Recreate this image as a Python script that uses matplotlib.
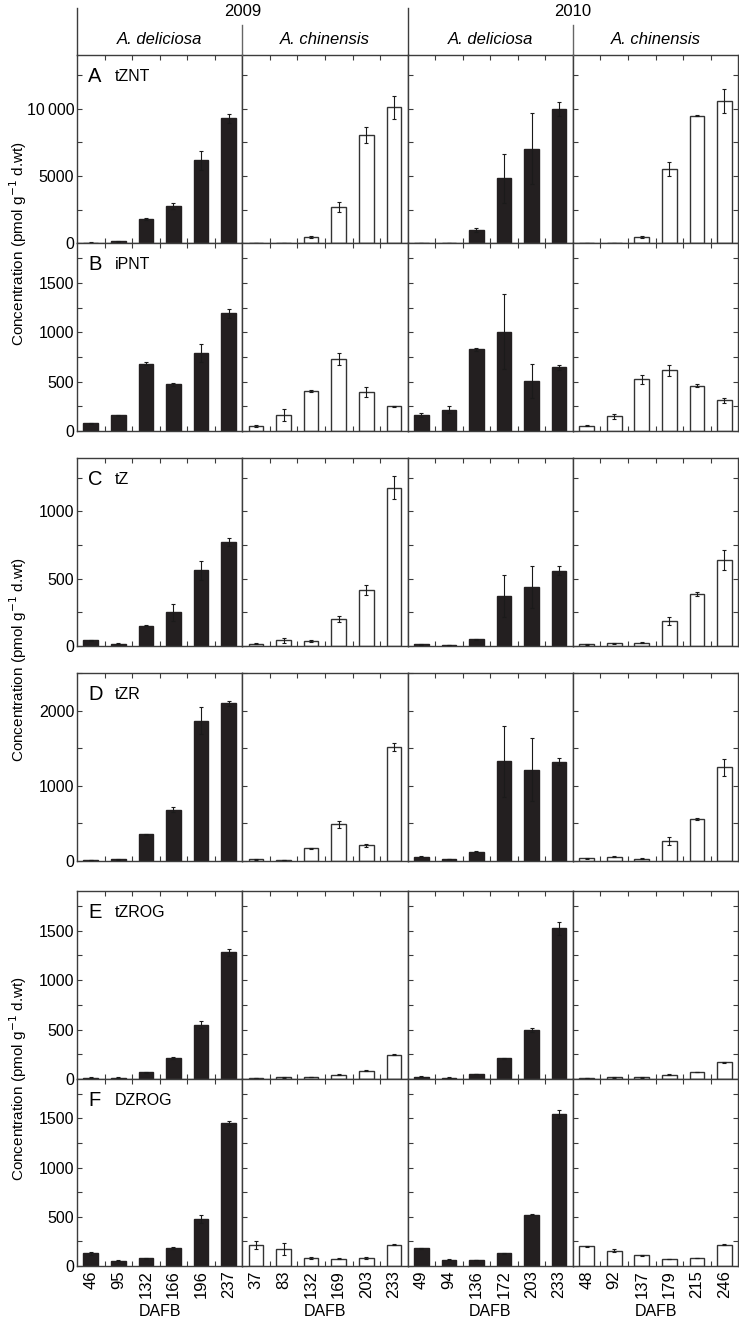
import numpy as np
import matplotlib.pyplot as plt
from matplotlib.lines import Line2D
from matplotlib.ticker import MultipleLocator, FixedLocator, FuncFormatter

plt.rcParams['font.family'] = ['Liberation Sans', 'DejaVu Sans']

years = ['2009', '2010']
species = ['A. deliciosa', 'A. chinensis', 'A. deliciosa', 'A. chinensis']
dafb = [['46', '95', '132', '166', '196', '237'],
        ['37', '83', '132', '169', '203', '233'],
        ['49', '94', '136', '172', '203', '233'],
        ['48', '92', '137', '179', '215', '246']]

letters = ['A', 'B', 'C', 'D', 'E', 'F']
compounds = ['tZNT', 'iPNT', 'tZ', 'tZR', 'tZROG', 'DZROG']

# one list per column: deliciosa 09, chinensis 09, deliciosa 10, chinensis 10
tznt = [[50, 150, 1790, 2790, 6170, 9280],
        [30, 20, 470, 2690, 8060, 10120],
        [30, 40, 970, 4830, 7040, 10000],
        [20, 10, 470, 5520, 9480, 10600]]
tznt_err = [[10, 30, 60, 220, 700, 300],
            [10, 10, 40, 400, 590, 850],
            [10, 10, 150, 1840, 2660, 520],
            [10, 10, 60, 530, 40, 900]]

ipnt = [[77, 158, 680, 475, 790, 1192],
        [50, 162, 407, 727, 397, 249],
        [162, 215, 825, 1007, 508, 646],
        [54, 148, 522, 616, 458, 310]]
ipnt_err = [[5, 5, 15, 15, 87, 44],
            [13, 64, 13, 59, 49, 8],
            [20, 37, 13, 380, 175, 24],
            [5, 27, 45, 56, 17, 29]]

tz = [[40, 15, 149, 249, 562, 771],
      [15, 40, 35, 197, 415, 1177],
      [12, 5, 47, 371, 440, 560],
      [10, 17, 22, 184, 383, 639]]
tz_err = [[3, 3, 4, 64, 70, 30],
          [4, 21, 4, 21, 40, 83],
          [4, 2, 3, 156, 157, 32],
          [3, 3, 3, 29, 15, 72]]

tzr = [[9, 18, 351, 680, 1867, 2098],
       [18, 9, 164, 484, 204, 1520],
       [53, 22, 120, 1324, 1213, 1320],
       [31, 53, 27, 267, 556, 1244]]
tzr_err = [[3, 5, 8, 31, 182, 35],
           [8, 3, 10, 51, 18, 53],
           [5, 4, 6, 476, 422, 49],
           [4, 8, 4, 51, 13, 109]]

tzrog = [[13, 13, 67, 212, 549, 1279],
         [10, 17, 20, 44, 84, 246],
         [24, 13, 50, 209, 495, 1522],
         [10, 17, 17, 44, 71, 168]]
tzrog_err = [[3, 3, 5, 10, 34, 37],
             [3, 3, 3, 3, 3, 7],
             [3, 3, 3, 4, 17, 67],
             [3, 3, 3, 3, 3, 3]]

dzrog = [[129, 51, 81, 183, 475, 1450],
         [214, 169, 81, 75, 81, 214],
         [180, 64, 61, 129, 522, 1541],
         [200, 153, 108, 71, 81, 214]]
dzrog_err = [[15, 5, 5, 6, 40, 20],
             [44, 61, 6, 8, 8, 5],
             [7, 4, 4, 5, 7, 40],
             [5, 15, 4, 3, 4, 5]]

means = [tznt, ipnt, tz, tzr, tzrog, dzrog]
errs = [tznt_err, ipnt_err, tz_err, tzr_err, tzrog_err, dzrog_err]

ylims = [14000, 1900, 1400, 2500, 1900, 1900]
majors = [5000, 500, 500, 1000, 500, 500]
minors = [2500, 250, 250, 500, 250, 250]

W, H = 739, 1327
fig = plt.figure(figsize=(W / 100, H / 100), dpi=100)

left_px = 77
col_w = 165.3
row_px = [(55, 243.3), (243.3, 431), (457.7, 645.7),
          (673.3, 860.7), (891, 1079), (1079, 1266)]

spine_c = '#3c3c3c'
bar_black = '#231f20'
fs = 11.5


def thousands(v, pos):
    v = int(round(v))
    if v >= 10000:
        return '{}\u2009{:03d}'.format(v // 1000, v % 1000)
    return str(v)


x = np.arange(6)
for r in range(6):
    top, bot = row_px[r]
    for c in range(4):
        ax = fig.add_axes([(left_px + c * col_w) / W, 1 - bot / H,
                           col_w / W, (bot - top) / H])
        filled = c in (0, 2)
        ax.bar(x, means[r][c], width=0.53,
               color=bar_black if filled else 'white',
               edgecolor=bar_black if filled else '#333333',
               linewidth=1.0, zorder=2)
        ax.errorbar(x, means[r][c], yerr=errs[r][c], fmt='none',
                    ecolor='#1a1a1a', elinewidth=0.8, capsize=1.5,
                    capthick=0.8, zorder=3)
        ax.set_xlim(-0.5, 5.5)
        ax.set_ylim(0, ylims[r])
        for s in ax.spines.values():
            s.set_color(spine_c)
            s.set_linewidth(1.0)

        ax.yaxis.set_major_locator(MultipleLocator(majors[r]))
        ax.yaxis.set_minor_locator(MultipleLocator(minors[r]))
        ax.yaxis.set_major_formatter(FuncFormatter(thousands))
        ax.tick_params(axis='y', which='both', direction='in',
                       length=3.5, width=0.8, color=spine_c,
                       labelsize=fs, pad=2,
                       left=True, right=(c == 3),
                       labelleft=(c == 0))

        ax.xaxis.set_major_locator(FixedLocator(x))
        ax.xaxis.set_minor_locator(FixedLocator(x[:-1] + 0.5))
        ax.tick_params(axis='x', which='major', length=0,
                       labelsize=12, pad=3, labelrotation=90)
        ax.tick_params(axis='x', which='minor', direction='in',
                       length=3.5, width=0.8, color=spine_c,
                       top=True, bottom=True)
        if r == 5:
            ax.set_xticklabels(dafb[c])
        else:
            ax.set_xticklabels([])

        if c == 0:
            ax.text(0.067, 0.885, letters[r], transform=ax.transAxes,
                    fontsize=14.5, va='center', ha='left')
            ax.text(0.23, 0.885, compounds[r], transform=ax.transAxes,
                    fontsize=11.5, va='center', ha='left')

# header: years and species
for i, yr in enumerate(years):
    xc = left_px + (2 * i + 1) * col_w
    fig.text(xc / W, 1 - 11 / H, yr, ha='center', va='center', fontsize=12)
for c, sp in enumerate(species):
    xc = left_px + (c + 0.5) * col_w
    fig.text(xc / W, 1 - 39 / H, sp, ha='center', va='center',
             fontsize=12, style='italic')
    fig.text(xc / W, 1 - 1312 / H, 'DAFB', ha='center', va='center',
             fontsize=11.5)

for xp in (left_px, left_px + 2 * col_w):
    fig.add_artist(Line2D([xp / W, xp / W], [1 - 8 / H, 1 - 55 / H],
                          transform=fig.transFigure, color=spine_c, lw=1.0))
for xp in (left_px + col_w, left_px + 3 * col_w):
    fig.add_artist(Line2D([xp / W, xp / W], [1 - 25 / H, 1 - 55 / H],
                          transform=fig.transFigure, color='#666666', lw=1.0))

# y labels, one per pair of rows
ylab = 'Concentration (pmol g$^{-1}$ d.wt)'
for yc in (243.3, 659.5, 1079):
    fig.text(18 / W, 1 - yc / H, ylab, rotation=90, ha='center',
             va='center', fontsize=11)

fig.savefig('out.png', dpi=100)
